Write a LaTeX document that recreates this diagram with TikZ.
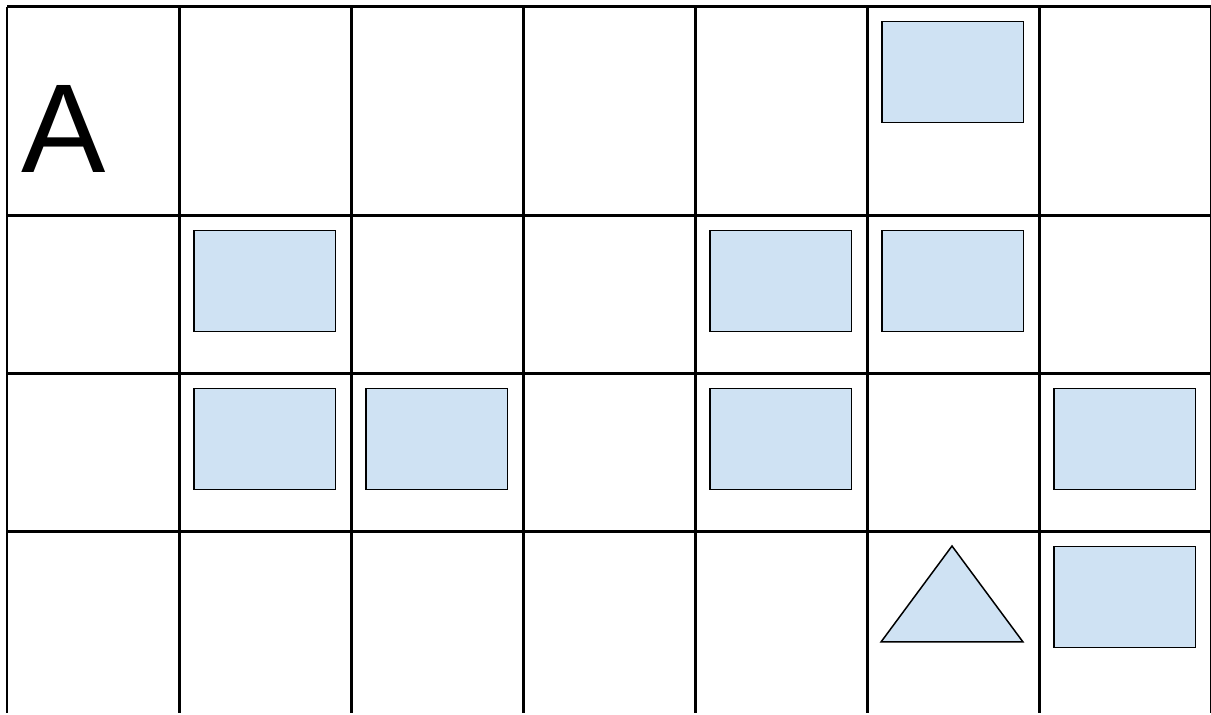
\documentclass[tikz,border=0pt]{standalone}
\usepackage{fontspec}
\setmainfont{Liberation Sans}
\usetikzlibrary{positioning}
\definecolor{paleblue}{HTML}{CFE2F3}
\tikzset{
  gridline/.style={line width=0.06cm, black},
  cellbox/.style={rectangle, draw=black, line width=0.03cm, fill=paleblue,
    minimum width=2.84cm, minimum height=2.02cm, inner sep=0pt, anchor=north west},
  cellmark/.style={draw=black, line width=0.03cm, fill=paleblue, line join=miter},
  letter/.style={inner sep=0pt, anchor=base, font=\fontsize{72}{86}\selectfont},
}

\begin{document}
\begin{tikzpicture}[x=0.02cm, y=-0.02cm]
\useasboundingbox (0,0) rectangle (1211,715);

% grid
\foreach \gx in {7,179,351,523,695,867,1039} {
  \draw[gridline] (\gx,7) -- (\gx,713);
}
\draw[gridline] (1211,7) -- (1211,713);
\foreach \gy in {7,216,374,532} {
  \draw[gridline] (7,\gy) -- (1211,\gy);
}

\node[letter] (lblA) at (64,173) {A};

% boxes: column, row
\foreach \c/\r/\rt [count=\i] in {5/0/7, 1/1/216, 4/1/216, 5/1/216, 1/2/374, 2/2/374, 4/2/374, 6/2/374, 6/3/532} {
  \node[cellbox] (box\i) at ({7+172*\c+14},{\rt+14}) {};
}

\draw[cellmark] (881,642) -- (952,546) -- (1023,642) -- cycle;
\end{tikzpicture}
\end{document}
